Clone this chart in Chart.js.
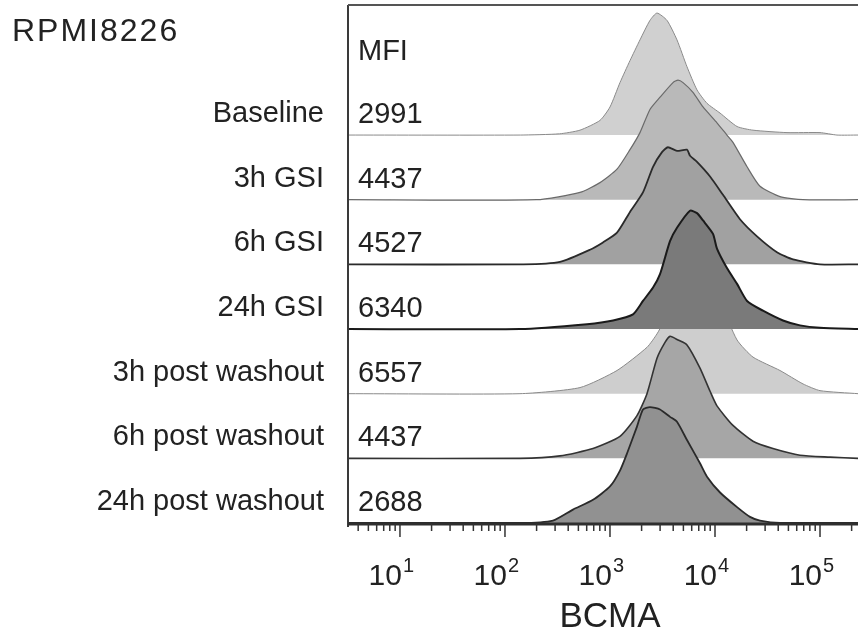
<!DOCTYPE html>
<html>
<head>
<meta charset="utf-8">
<script src="https://cdn.jsdelivr.net/npm/chart.js@4"></script>
<style>
  html, body { margin: 0; padding: 0; background: #fff; }
  canvas { display: block; }
</style>
</head>
<body>
<canvas id="bcmaChart" width="858" height="631"></canvas>
<script>
// BCMA histograms, RPMI8226, GSI treatment and washout (staggered overlay)

const cellLine = "RPMI8226";
const conditions = ["Baseline", "3h GSI", "6h GSI", "24h GSI", "3h post washout", "6h post washout", "24h post washout"];
const mfiValues = [2991, 4437, 4527, 6340, 6557, 4437, 2688];
const decadeExponents = [1, 2, 3, 4, 5];
const axisTitle = "BCMA";

// histogram outlines, [BCMA, % of mode]
const baselineHist = [[3.2,0],[140,0],[330,1],[518,4],[803,12],[1000,23],[1245,43],[1550,61],[1930,78],[2403,94],[2803,100],[3490,94],[4345,78],[5410,56],[6740,37],[8395,26],[11170,18],[16220,7],[23000,4],[48500,2],[100000,2],[145000,0],[230000,0]];
const gsi3hHist = [[3.2,0],[200,0],[518,6],[803,14],[1166,25],[1550,41],[1930,55],[2403,74],[2994,84],[3981,96],[4446,98],[4960,96],[6170,88],[7690,76],[10440,63],[13000,53],[14830,47],[20200,27],[26830,11],[41600,2.5],[68900,0],[230000,0]];
const gsi6hHist = [[3.2,0],[150,0],[334,2],[645,12],[857,18],[1166,26],[1550,43],[2061,59],[2570,80],[3128,92],[3565,96],[4345,93],[5410,94],[5780,89],[6740,84],[8970,72],[11910,57],[17290,37],[25120,23],[38900,10],[55300,4],[100000,0],[230000,0]];
const gsi24hHist = [[3.2,0],[139,0],[604,4],[1069,7],[1656,12],[2061,23],[2570,34],[2994,45],[3728,72],[4345,83],[5780,97],[6740,95],[7690,89],[9570,78],[10440,66],[13000,50],[16220,37],[20200,23],[28640,15],[44400,7],[64500,3],[100000,1],[230000,0]];
const wash3hHist = [[3.2,0],[139,0],[518,5],[1166,19],[2250,38],[2803,49],[3728,68],[5780,88],[8040,95],[11170,75],[16220,44],[23000,30],[41600,19],[68900,8],[100000,2.5],[230000,0]];
const wash6hHist = [[3.2,0],[139,0],[334,2],[689,8],[1245,18],[1807,35],[2250,53],[2803,82],[3342,95],[3728,100],[4446,97],[5410,93],[7197,74],[8970,55],[10440,43],[14830,27],[23000,14],[35650,8],[64500,2.5],[124500,1],[230000,0]];
const wash24hHist = [[3.2,0],[139,0],[286,2],[444,11],[689,19],[1000,30],[1245,43],[1452,57],[1807,79],[2061,93],[2403,95],[2994,93],[3728,87],[4345,83],[5410,68],[7197,49],[8395,38],[11170,25],[16220,13],[21540,5],[26830,2],[41600,0],[230000,0]];

const histograms = [baselineHist, gsi3hHist, gsi6hHist, gsi24hHist, wash3hHist, wash6hHist, wash24hHist];

const fillColors = ["#d0d0d0", "#b9b9b9", "#a1a1a1", "#7a7a7a", "#cecece", "#a6a6a6", "#919191"];
const lineColors = ["#8a8a8a", "#6a6a6a", "#2a2a2a", "#1a1a1a", "#8a8a8a", "#333333", "#2a2a2a"];
const lineWidths = [1, 1.2, 1.8, 2, 1, 1.6, 1.8];
// chart.js: lower order is painted later (on top); 24h GSI covers the 3h washout peak
const drawOrder = [6, 5, 4, 0, 3, 2, 1];

const rowStep = 53;       // vertical offset between rows, in % of mode units
const yTop = 424.6;
const xMin = 3.2, xMax = 230000;
const FONT = "'Liberation Sans', Arial, Helvetica, sans-serif";

const rowCount = conditions.length;
const rowOffset = i => (rowCount - 1 - i) * rowStep;

const datasets = histograms.map((hist, i) => ({
  label: conditions[i],
  data: hist.map(p => ({ x: p[0], y: rowOffset(i) + p[1] })),
  backgroundColor: fillColors[i],
  borderColor: lineColors[i],
  borderWidth: lineWidths[i],
  fill: { value: rowOffset(i) },
  pointRadius: 0,
  tension: 0.2,
  order: drawOrder[i]
}));

const overlayPlugin = {
  id: "overlay",
  afterDraw(chart) {
    const ctx = chart.ctx;
    const area = chart.chartArea;
    const xs = chart.scales.x;
    const ys = chart.scales.y;
    ctx.save();

    // frame: left, top, bottom axis
    ctx.strokeStyle = "#3a3a3a";
    ctx.lineWidth = 2;
    ctx.beginPath();
    ctx.moveTo(area.left, area.top);
    ctx.lineTo(area.left, area.bottom + 4);
    ctx.stroke();
    ctx.strokeStyle = "#555";
    ctx.beginPath();
    ctx.moveTo(area.left, area.top);
    ctx.lineTo(area.right, area.top);
    ctx.stroke();
    ctx.strokeStyle = "#2e2e2e";
    ctx.lineWidth = 3;
    ctx.beginPath();
    ctx.moveTo(area.left, area.bottom + 1);
    ctx.lineTo(area.right, area.bottom + 1);
    ctx.stroke();

    // log ticks
    ctx.lineWidth = 1.5;
    ctx.strokeStyle = "#333";
    for (let e = 0; e <= 5; e++) {
      for (let m = 1; m <= 9; m++) {
        const v = m * Math.pow(10, e);
        if (v < xMin || v > xMax) continue;
        const px = xs.getPixelForValue(v);
        const len = m === 1 ? 13 : 7;
        ctx.beginPath();
        ctx.moveTo(px, area.bottom + 1);
        ctx.lineTo(px, area.bottom + 1 + len);
        ctx.stroke();
      }
    }

    // tick labels 10^n
    ctx.fillStyle = "#222";
    ctx.textBaseline = "alphabetic";
    decadeExponents.forEach(e => {
      const px = xs.getPixelForValue(Math.pow(10, e));
      ctx.font = "30px " + FONT;
      ctx.textAlign = "right";
      ctx.fillText("10", px + 2, 585);
      ctx.font = "20px " + FONT;
      ctx.textAlign = "left";
      ctx.fillText(String(e), px + 3, 572);
    });

    // axis title
    ctx.font = "35px " + FONT;
    ctx.textAlign = "center";
    ctx.fillText(axisTitle, 610, 627);

    // title
    ctx.font = "32px " + FONT;
    ctx.textAlign = "left";
    if ("letterSpacing" in ctx) ctx.letterSpacing = "2px";
    ctx.fillText(cellLine, 12, 41);
    if ("letterSpacing" in ctx) ctx.letterSpacing = "0px";

    // MFI header + values, row labels
    ctx.font = "29px " + FONT;
    ctx.fillText("MFI", area.left + 10, 60);
    conditions.forEach((name, i) => {
      const base = ys.getPixelForValue(rowOffset(i));
      ctx.textAlign = "left";
      ctx.fillText(String(mfiValues[i]), area.left + 10, base - 12);
      ctx.textAlign = "right";
      ctx.fillText(name, 324, base - 13);
    });

    ctx.restore();
  }
};

new Chart(document.getElementById("bcmaChart"), {
  type: "line",
  data: { datasets },
  options: {
    responsive: false,
    animation: false,
    layout: { padding: { left: 348, right: 0, top: 5, bottom: 108 } },
    scales: {
      x: { type: "logarithmic", min: xMin, max: xMax, display: false },
      y: { type: "linear", min: 0, max: yTop, display: false }
    },
    plugins: {
      legend: { display: false },
      tooltip: { enabled: false }
    }
  },
  plugins: [overlayPlugin]
});
</script>
</body>
</html>
